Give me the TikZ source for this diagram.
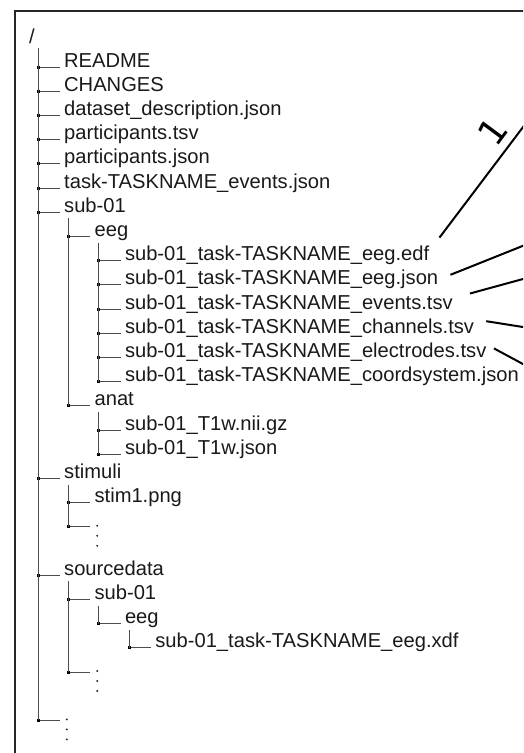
\documentclass[tikz,border=0pt]{standalone}
\usepackage{fontspec}
\setmainfont{Liberation Sans}
\newfontfamily\labelfont{DejaVu Sans}
\newcommand\tentry[4]{%
  \pgfmathsetmacro\vx{38+30.4*(#2-1)}%
  \pgfmathsetmacro\ry{67+24.2*#3}%
  \coordinate (j#1) at (\vx,\ry);
  \node[entry] (#1) at (\vx+26,\ry) {#4};
  \draw[treeline] (j#1) -- ([xshift=-4pt]#1.base west);
  \node[jdot] (d#1) at (j#1) {};
}
\newcommand\tdots[1]{%
  \foreach \k in {0,1,2} \fill[black!85] ([shift={(2.8,10*\k-1)}]#1.base west) circle (1.1pt);
}
\begin{document}
\begin{tikzpicture}[x=1pt,y=-1pt,
  entry/.style={anchor=base west, inner sep=0pt, text=black!90, font=\fontsize{20.15}{24}\selectfont},
  treeline/.style={draw=black!70, line width=1pt},
  conn/.style={draw=black, line width=2pt},
  frameline/.style={draw=black!85, line width=2.6pt},
  jdot/.style={fill=black, rectangle, minimum size=3pt, inner sep=0pt}
]
\useasboundingbox (0,0) rectangle (523,753);
\begin{scope}
\clip (0,0) rectangle (523,753);
\draw[frameline] (15,800) -- (15,11) -- (560,11);

\node[entry] (root) at (29,43) {/};

\tentry{readme}{1}{0}{README}
\tentry{changes}{1}{1}{CHANGES}
\tentry{dsdesc}{1}{2}{dataset\_description.json}
\tentry{ptsv}{1}{3}{participants.tsv}
\tentry{pjson}{1}{4}{participants.json}
\tentry{taskev}{1}{5}{task-TASKNAME\_events.json}
\tentry{sub}{1}{6}{sub-01}
\tentry{eeg}{2}{7}{eeg}
\tentry{edf}{3}{8}{sub-01\_task-TASKNAME\_eeg.edf}
\tentry{eegjson}{3}{9}{sub-01\_task-TASKNAME\_eeg.json}
\tentry{events}{3}{10}{sub-01\_task-TASKNAME\_events.tsv}
\tentry{channels}{3}{11}{sub-01\_task-TASKNAME\_channels.tsv}
\tentry{electrodes}{3}{12}{sub-01\_task-TASKNAME\_electrodes.tsv}
\tentry{coordsys}{3}{13}{sub-01\_task-TASKNAME\_coordsystem.json}
\tentry{anat}{2}{14}{anat}
\tentry{tnii}{3}{15}{sub-01\_T1w.nii.gz}
\tentry{tjson}{3}{16}{sub-01\_T1w.json}
\tentry{stimuli}{1}{17}{stimuli}
\tentry{stim}{2}{18}{stim1.png}
\tentry{stimdots}{2}{19}{}
\tdots{stimdots}
\tentry{source}{1}{21}{sourcedata}
\tentry{srcsub}{2}{22}{sub-01}
\tentry{srceeg}{3}{23}{eeg}
\tentry{xdf}{4}{24}{sub-01\_task-TASKNAME\_eeg.xdf}
\tentry{srcdots}{2}{25}{}
\tdots{srcdots}
\tentry{rootdots}{1}{27}{}
\tdots{rootdots}

% vertical tree lines
\draw[treeline] ([yshift=19pt]jreadme) -- (jrootdots);
\draw[treeline] ([yshift=18pt]jeeg) -- (janat);
\draw[treeline] ([yshift=18pt]jedf) -- (jcoordsys);
\draw[treeline] ([yshift=18pt]jtnii) -- (jtjson);
\draw[treeline] ([yshift=18pt]jstim) -- (jstimdots);
\draw[treeline] ([yshift=18pt]jsrcsub) -- (jsrcdots);
\draw[treeline] ([yshift=18pt]jsrceeg) -- (jsrceeg);
\draw[treeline] ([yshift=18pt]jxdf) -- (jxdf);

% connectors to the right
\coordinate (e1) at (545,98);
\coordinate (e2) at (545,237);
\coordinate (e3) at (545,273);
\coordinate (e4) at (545,330.5);
\coordinate (e5) at (545,375.9);
\draw[conn] ([shift={(10,-23)}]edf.base east) -- (e1);
\draw[conn] ([shift={(12,-10)}]eegjson.base east) -- (e2);
\draw[conn] ([shift={(17,-15.5)}]events.base east) -- (e3);
\draw[conn] ([shift={(12,-12)}]channels.base east) -- (e4);
\draw[conn] ([shift={(7.4,-9)}]electrodes.base east) -- (e5);

\node[font=\labelfont\fontsize{36}{36}\selectfont, rotate=53.5, inner sep=0pt] (lab1) at (493,131) {1};
\end{scope}
\end{tikzpicture}
\end{document}
